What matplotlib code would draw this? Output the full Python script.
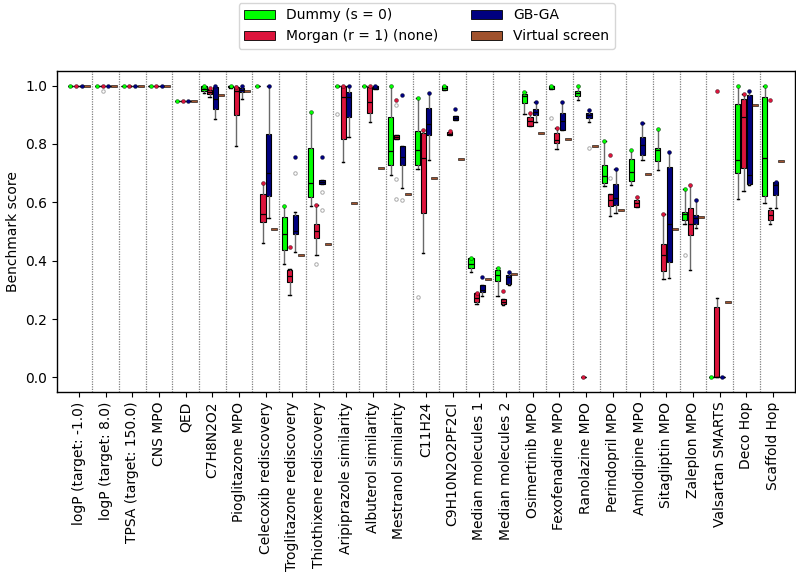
import numpy as np
import matplotlib.pyplot as plt
from matplotlib.patches import Patch
from matplotlib.path import Path

tasks = ["logP (target: -1.0)", "logP (target: 8.0)", "TPSA (target: 150.0)", "CNS MPO", "QED",
         "C7H8N2O2", "Pioglitazone MPO", "Celecoxib rediscovery", "Troglitazone rediscovery",
         "Thiothixene rediscovery", "Aripiprazole similarity", "Albuterol similarity",
         "Mestranol similarity", "C11H24", "C9H10N2O2PF2Cl", "Median molecules 1",
         "Median molecules 2", "Osimertinib MPO", "Fexofenadine MPO", "Ranolazine MPO",
         "Perindopril MPO", "Amlodipine MPO", "Sitagliptin MPO", "Zaleplon MPO",
         "Valsartan SMARTS", "Deco Hop", "Scaffold Hop"]

# per task: (whisker low, q1, median, q3, whisker high, best score)
dummy = [(1, 1, 1, 1, 1, 1), (1, 1, 1, 1, 1, 1), (1, 1, 1, 1, 1, 1), (1, 1, 1, 1, 1, 1),
         (.948, .948, .948, .948, .948, .948),
         (.975, .983, .99, 1.0, 1.0, 1.0), (.993, .995, 1.0, 1.0, 1.0, 1.0),
         (1, 1, 1, 1, 1, 1), (.388, .435, .490, .549, .587, .587),
         (.588, .618, .667, .787, .909, .909), (1, 1, 1, 1, 1, 1), (1, 1, 1, 1, 1, 1),
         (.693, .729, .776, .892, 1.0, 1.0), (.715, .727, .778, .846, .958, .958),
         (.985, .985, .993, 1.0, 1.0, 1.0), (.360, .374, .390, .408, .410, .410),
         (.280, .331, .351, .368, .375, .375), (.903, .941, .965, .972, .977, .977),
         (.99, .99, 1.0, 1.0, 1.0, 1.0), (.949, .963, .973, .983, 1.0, 1.0),
         (.655, .666, .691, .727, .810, .810), (.658, .672, .704, .747, .778, .778),
         (.710, .741, .778, .787, .850, .850), (.525, .539, .559, .567, .647, .647),
         (0, 0, 0, 0, 0, 0), (.610, .702, .744, .937, 1.0, 1.0),
         (.596, .621, .753, .962, 1.0, 1.0)]
morgan = [(1, 1, 1, 1, 1, 1), (1, 1, 1, 1, 1, 1), (1, 1, 1, 1, 1, 1), (1, 1, 1, 1, 1, 1),
          (.948, .948, .948, .948, .948, .948),
          (.962, .972, .978, .985, .99, .993), (.794, .900, .980, .994, 1.0, .996),
          (.459, .533, .559, .628, .667, .667), (.283, .326, .347, .368, .372, .448),
          (.419, .478, .502, .527, .592, .592), (.738, .818, .962, .997, 1.0, 1.0),
          (.875, .907, .943, .994, 1.0, 1.0), (.818, .818, .824, .829, .829, .949),
          (.427, .564, .753, .837, .849, .849), (.829, .829, .835, .840, .843, .843),
          (.252, .258, .273, .288, .290, .290), (.249, .252, .260, .269, .269, .297),
          (.861, .863, .880, .892, .907, .907), (.784, .803, .812, .838, .855, .855),
          (0, 0, 0, 0, 0, 0), (.552, .587, .607, .628, .628, .761),
          (.584, .584, .597, .609, .618, .618), (.337, .365, .419, .457, .559, .559),
          (.368, .488, .527, .579, .658, .658), (0, 0, 0, .240, .271, .983),
          (.639, .719, .892, .955, .972, .972), (.525, .539, .556, .573, .580, .951)]
gbga = [(1, 1, 1, 1, 1, 1), (1, 1, 1, 1, 1, 1), (1, 1, 1, 1, 1, 1), (1, 1, 1, 1, 1, 1),
        (.948, .948, .948, .948, .948, .948),
        (.886, .920, .955, .994, 1.0, 1.0), (.955, .979, .985, .993, 1.0, 1.0),
        (.545, .622, .702, .835, 1.0, 1.0), (.430, .490, .502, .556, .567, .755),
        (.664, .664, .668, .675, .675, .755), (.823, .892, .962, .977, 1.0, 1.0),
        (.99, .99, .995, 1.0, 1.0, 1.0), (.650, .727, .757, .792, .792, .969),
        (.744, .831, .867, .922, .975, .975), (.883, .883, .889, .895, .895, .919),
        (.279, .292, .300, .317, .317, .345), (.318, .320, .345, .351, .362, .362),
        (.875, .900, .910, .920, .945, .945), (.849, .849, .880, .907, .943, .943),
        (.875, .890, .900, .907, .918, .918), (.562, .592, .615, .664, .715, .715),
        (.746, .761, .795, .823, .871, .871), (.340, .396, .527, .721, .772, .772),
        (.513, .525, .545, .558, .609, .609), (0, 0, 0, 0, 0, 0),
        (.660, .664, .695, .968, .980, .980), (.582, .624, .660, .668, .668, .668)]
virtual_screen = [1.0, 1.0, 1.0, 1.0, .948, .969, .981, .507, .420, .458, .596, .719, .630,
                  .685, .747, .336, .353, .839, .816, .792, .575, .696, .509, .548, .260,
                  .932, .740]

# extra outlier circles: task index -> values
dummy_fliers = {10: [.903], 13: [.277], 18: [.890], 23: [.419]}
morgan_fliers = {1: [.983], 9: [.388], 12: [.935, .681, .610], 20: [.685]}
gbga_fliers = {8: [.702], 9: [.636, .575], 12: [.607], 19: [.787]}

methods = [("Dummy (s = 0)", dummy, dummy_fliers, "#00ff00"),
           ("Morgan (r = 1) (none)", morgan, morgan_fliers, "crimson"),
           ("GB-GA", gbga, gbga_fliers, "navy")]
vs_color = "sienna"
offsets = [-0.315, -0.105, 0.105, 0.315]

fig = plt.figure(figsize=(7.96, 5.81), dpi=100)
ax = fig.add_axes([0.0716, 0.3253, 0.9271, 0.5525])
x = np.arange(len(tasks))

for k, (name, rows, fliers, color) in enumerate(methods):
    stats = []
    for i, (lo, q1, med, q3, hi, best) in enumerate(rows):
        stats.append(dict(whislo=lo, q1=q1, med=med, q3=q3, whishi=hi,
                          fliers=fliers.get(i, [])))
    ax.bxp(stats, positions=x + offsets[k], widths=0.19, capwidths=0.09,
           patch_artist=True, showfliers=True, manage_ticks=False,
           boxprops=dict(facecolor=color, edgecolor="black", linewidth=0.8),
           medianprops=dict(color="black", linewidth=0.9),
           whiskerprops=dict(color="dimgray", linewidth=1.0),
           capprops=dict(color="black", linewidth=1.0),
           flierprops=dict(marker="o", markersize=2.5, markerfacecolor="none",
                           markeredgecolor="darkgray", markeredgewidth=0.7))
    ax.plot(x + offsets[k], [r[5] for r in rows], "o", ms=2.8, color=color,
            mec="black", mew=0.25, zorder=4)

dash = Path([(-1, -0.35), (1, -0.35), (1, 0.35), (-1, 0.35), (-1, -0.35)],
            [Path.MOVETO, Path.LINETO, Path.LINETO, Path.LINETO, Path.CLOSEPOLY])
ax.plot(x + offsets[3], virtual_screen, ls="none", marker=dash, ms=5,
        mfc=vs_color, mec="black", mew=0.4, zorder=4)

for b in x[:-1] + 0.5:
    ax.axvline(b, color="gray", ls=(0, (1, 1)), lw=0.9, zorder=0)

ax.set_xlim(-0.82, len(tasks) - 1 + 0.82)
ax.set_ylim(-0.05, 1.05)
ax.set_yticks(np.arange(0, 1.01, 0.2))
ax.set_xticks(x)
ax.set_xticklabels(tasks, rotation=90, fontsize=10)
ax.tick_params(axis="y", labelsize=10)
ax.set_ylabel("Benchmark score", fontsize=10)
for s in ax.spines.values():
    s.set_linewidth(1.0)

handles = [Patch(facecolor=c, edgecolor="black", linewidth=0.6, label=n)
           for n, _, _, c in methods[:2]]
handles += [Patch(facecolor="navy", edgecolor="black", linewidth=0.6, label="GB-GA"),
            Patch(facecolor=vs_color, edgecolor="black", linewidth=0.6, label="Virtual screen")]
fig.legend(handles=handles, loc="upper center", bbox_to_anchor=(0.536, 1.007),
           ncol=2, fontsize=10, columnspacing=2.4, handlelength=2.2)

fig.savefig("out.png", dpi=100)
